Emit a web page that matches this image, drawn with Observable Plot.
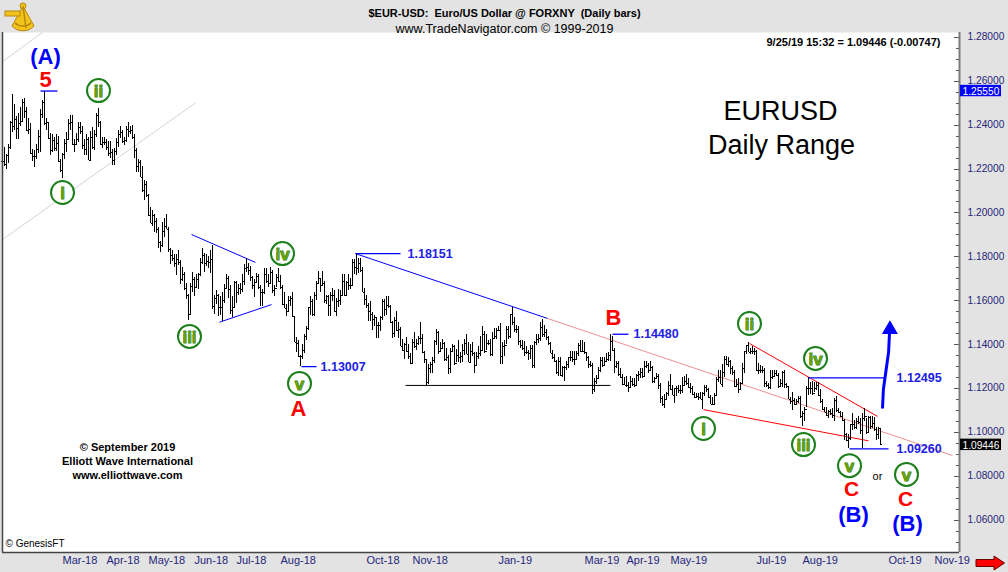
<!DOCTYPE html>
<html><head><meta charset="utf-8">
<script src="https://cdn.jsdelivr.net/npm/d3@7"></script>
<script src="https://cdn.jsdelivr.net/npm/@observablehq/plot@0.6"></script>
<style>
html,body{margin:0;padding:0;background:#e3e3e3;}
#wrap{position:relative;width:1008px;height:572px;overflow:hidden;}
#wrap svg{display:block}
.deco{position:absolute}
</style></head><body>
<div id="wrap"></div>
<script>
// ---- Daily bars, EUR/USD, weekdays from 2018-01-18 to 2019-09-25 ----
const startDate = "2018-01-18";
const highs = [
/*Jan18*/1.2295,1.2296,1.2265,1.2310,1.2415,1.2537,1.2495,1.2440,1.2455,1.2480,
/*Feb18*/1.2515,1.2520,1.2480,1.2430,1.2405,1.2290,1.2285,1.2310,1.2375,1.2470,1.2510,1.2555,1.2430,1.2410,1.2360,1.2355,1.2345,1.2355,1.2350,1.2245,
/*Mar18*/1.2272,1.2335,1.2365,1.2425,1.2445,1.2445,1.2335,1.2360,1.2410,1.2410,1.2395,1.2335,1.2355,1.2345,1.2370,1.2390,1.2375,1.2455,1.2476,1.2415,1.2345,1.2345,
/*Apr18*/1.2335,1.2325,1.2325,1.2290,1.2295,1.2340,1.2375,1.2395,1.2375,1.2345,1.2395,1.2414,1.2395,1.2400,1.2355,1.2295,1.2245,1.2240,1.2210,1.2150,1.2145,
/*May18*/1.2085,1.2025,1.2010,1.1995,1.1975,1.1935,1.1870,1.1955,1.1975,1.1995,1.1935,1.1840,1.1830,1.1810,1.1810,1.1830,1.1785,1.1750,1.1730,1.1680,1.1630,1.1680,1.1730,
/*Jun18*/1.1705,1.1720,1.1725,1.1795,1.1840,1.1815,1.1810,1.1800,1.1830,1.1852,1.1625,1.1645,1.1630,1.1620,1.1640,1.1675,1.1720,1.1710,1.1670,1.1620,1.1690,
/*Jul18*/1.1690,1.1675,1.1680,1.1720,1.1765,1.1791,1.1770,1.1755,1.1710,1.1695,1.1725,1.1720,1.1670,1.1650,1.1745,1.1745,1.1720,1.1750,1.1740,1.1670,1.1720,1.1745,
/*Aug18*/1.1715,1.1670,1.1640,1.1585,1.1620,1.1620,1.1640,1.1530,1.1435,1.1420,1.1350,1.1400,1.1445,1.1485,1.1570,1.1620,1.1605,1.1640,1.1690,1.1735,1.1700,1.1735,1.1690,
/*Sep18*/1.1625,1.1625,1.1640,1.1655,1.1645,1.1610,1.1650,1.1645,1.1720,1.1720,1.1690,1.1720,1.1700,1.1790,1.1790,1.1815,1.1795,1.1795,1.1750,1.1655,
/*Oct18*/1.1625,1.1590,1.1595,1.1545,1.1535,1.1525,1.1500,1.1530,1.1605,1.1605,1.1620,1.1620,1.1580,1.1505,1.1525,1.1550,1.1500,1.1480,1.1425,1.1405,1.1435,1.1400,1.1360,
/*Nov18*/1.1425,1.1455,1.1425,1.1440,1.1500,1.1445,1.1370,1.1335,1.1310,1.1320,1.1340,1.1420,1.1470,1.1460,1.1410,1.1425,1.1410,1.1385,1.1350,1.1385,1.1400,1.1395,
/*Dec18*/1.1380,1.1420,1.1365,1.1400,1.1425,1.1445,1.1410,1.1400,1.1410,1.1365,1.1365,1.1390,1.1440,1.1485,1.1460,1.1445,1.1420,1.1425,1.1455,1.1475,1.1475,
/*Jan19*/1.1485,1.1495,1.1410,1.1420,1.1485,1.1485,1.1540,1.1570,1.1525,1.1490,1.1485,1.1420,1.1420,1.1415,1.1390,1.1375,1.1395,1.1395,1.1415,1.1445,1.1445,1.1500,1.1515,
/*Feb19*/1.1490,1.1470,1.1440,1.1410,1.1375,1.1355,1.1330,1.1340,1.1340,1.1300,1.1300,1.1325,1.1340,1.1370,1.1370,1.1370,1.1370,1.1405,1.1420,1.1420,
/*Mar19*/1.1410,1.1365,1.1345,1.1325,1.1315,1.1245,1.1260,1.1295,1.1340,1.1340,1.1340,1.1360,1.1365,1.1448,1.1440,1.1385,1.1325,1.1325,1.1290,1.1265,1.1250,
/*Apr19*/1.1255,1.1230,1.1255,1.1245,1.1245,1.1265,1.1280,1.1290,1.1290,1.1325,1.1325,1.1315,1.1325,1.1300,1.1250,1.1270,1.1265,1.1225,1.1165,1.1175,1.1185,1.1235,
/*May19*/1.1265,1.1215,1.1200,1.1210,1.1215,1.1215,1.1250,1.1255,1.1265,1.1245,1.1225,1.1210,1.1185,1.1180,1.1180,1.1185,1.1185,1.1215,1.1215,1.1200,1.1170,1.1160,1.1180,
/*Jun19*/1.1250,1.1285,1.1285,1.1310,1.1348,1.1345,1.1340,1.1330,1.1300,1.1285,1.1240,1.1245,1.1230,1.1315,1.1370,1.1395,1.1412,1.1385,1.1390,1.1385,
/*Jul19*/1.1375,1.1315,1.1305,1.1300,1.1290,1.1235,1.1225,1.1285,1.1285,1.1285,1.1285,1.1270,1.1240,1.1280,1.1285,1.1225,1.1210,1.1160,1.1185,1.1155,1.1150,1.1165,1.1165,
/*Aug19*/1.1095,1.1115,1.1210,1.1250,1.1230,1.1235,1.1230,1.1230,1.1230,1.1195,1.1150,1.1115,1.1115,1.1100,1.1105,1.1110,1.1155,1.1165,1.1110,1.1095,1.1090,1.1060,
/*Sep19*/1.0995,1.0990,1.1035,1.1085,1.1055,1.1065,1.1075,1.1065,1.1087,1.1109,1.1065,1.1075,1.1075,1.1075,1.1070,1.1025,1.1025,1.1020
];
const lows = [
/*Jan18*/1.2165,1.2210,1.2200,1.2225,1.2290,1.2365,1.2375,1.2335,1.2335,1.2395,
/*Feb18*/1.2410,1.2430,1.2370,1.2355,1.2265,1.2235,1.2206,1.2245,1.2270,1.2275,1.2430,1.2400,1.2375,1.2335,1.2260,1.2275,1.2280,1.2280,1.2230,1.2185,
/*Mar18*/1.2155,1.2245,1.2275,1.2330,1.2375,1.2305,1.2275,1.2305,1.2320,1.2355,1.2290,1.2260,1.2260,1.2240,1.2240,1.2290,1.2285,1.2345,1.2390,1.2305,1.2295,1.2305,
/*Apr18*/1.2285,1.2255,1.2250,1.2215,1.2215,1.2260,1.2300,1.2340,1.2315,1.2305,1.2320,1.2345,1.2355,1.2335,1.2250,1.2185,1.2185,1.2160,1.2095,1.2055,1.2070,
/*May18*/1.1985,1.1950,1.1940,1.1910,1.1905,1.1840,1.1820,1.1845,1.1890,1.1925,1.1820,1.1765,1.1780,1.1750,1.1715,1.1760,1.1675,1.1690,1.1645,1.1605,1.1510,1.1540,1.1640,
/*Jun18*/1.1620,1.1655,1.1650,1.1710,1.1765,1.1730,1.1755,1.1745,1.1725,1.1562,1.1540,1.1585,1.1530,1.1535,1.1508,1.1590,1.1650,1.1610,1.1540,1.1525,1.1565,
/*Jul18*/1.1590,1.1625,1.1630,1.1640,1.1670,1.1730,1.1715,1.1690,1.1650,1.1615,1.1680,1.1650,1.1575,1.1575,1.1630,1.1680,1.1660,1.1675,1.1635,1.1620,1.1660,1.1685,
/*Aug18*/1.1650,1.1580,1.1565,1.1530,1.1545,1.1575,1.1525,1.1410,1.1365,1.1340,1.1301,1.1335,1.1360,1.1420,1.1465,1.1535,1.1530,1.1530,1.1600,1.1675,1.1640,1.1665,1.1590,
/*Sep18*/1.1585,1.1530,1.1530,1.1595,1.1545,1.1530,1.1570,1.1580,1.1620,1.1620,1.1620,1.1645,1.1650,1.1670,1.1720,1.1715,1.1725,1.1730,1.1640,1.1580,
/*Oct18*/1.1565,1.1505,1.1505,1.1465,1.1485,1.1430,1.1430,1.1460,1.1510,1.1530,1.1535,1.1565,1.1495,1.1430,1.1435,1.1460,1.1430,1.1390,1.1370,1.1335,1.1365,1.1335,1.1310,
/*Nov18*/1.1310,1.1385,1.1375,1.1395,1.1400,1.1360,1.1315,1.1216,1.1220,1.1270,1.1270,1.1315,1.1395,1.1355,1.1370,1.1380,1.1325,1.1325,1.1265,1.1270,1.1365,1.1305,
/*Dec18*/1.1320,1.1320,1.1315,1.1320,1.1350,1.1355,1.1320,1.1315,1.1345,1.1270,1.1305,1.1335,1.1345,1.1375,1.1360,1.1375,1.1395,1.1345,1.1345,1.1425,1.1425,
/*Jan19*/1.1460,1.1310,1.1310,1.1345,1.1400,1.1425,1.1430,1.1490,1.1455,1.1450,1.1395,1.1385,1.1375,1.1345,1.1355,1.1330,1.1335,1.1290,1.1290,1.1395,1.1405,1.1415,1.1435,
/*Feb19*/1.1435,1.1420,1.1395,1.1360,1.1335,1.1320,1.1265,1.1255,1.1255,1.1250,1.1235,1.1285,1.1290,1.1325,1.1320,1.1305,1.1330,1.1345,1.1365,1.1365,
/*Mar19*/1.1355,1.1325,1.1290,1.1295,1.1176,1.1185,1.1220,1.1240,1.1275,1.1295,1.1300,1.1320,1.1325,1.1325,1.1370,1.1270,1.1290,1.1255,1.1245,1.1215,1.1215,
/*Apr19*/1.1205,1.1185,1.1200,1.1210,1.1205,1.1210,1.1235,1.1245,1.1245,1.1255,1.1290,1.1270,1.1285,1.1225,1.1225,1.1240,1.1195,1.1135,1.1120,1.1110,1.1150,1.1165,
/*May19*/1.1190,1.1170,1.1135,1.1165,1.1180,1.1175,1.1180,1.1210,1.1215,1.1200,1.1180,1.1170,1.1155,1.1155,1.1145,1.1150,1.1105,1.1165,1.1185,1.1155,1.1130,1.1125,1.1130,
/*Jun19*/1.1165,1.1230,1.1220,1.1205,1.1250,1.1305,1.1295,1.1265,1.1260,1.1205,1.1205,1.1180,1.1190,1.1225,1.1270,1.1355,1.1365,1.1355,1.1355,1.1350,
/*Jul19*/1.1280,1.1265,1.1270,1.1270,1.1205,1.1205,1.1195,1.1195,1.1240,1.1250,1.1255,1.1200,1.1205,1.1205,1.1200,1.1200,1.1150,1.1130,1.1100,1.1125,1.1130,1.1135,1.1065,
/*Aug19*/1.1027,1.1050,1.1115,1.1170,1.1175,1.1170,1.1185,1.1190,1.1165,1.1135,1.1100,1.1090,1.1075,1.1065,1.1080,1.1065,1.1050,1.1090,1.1085,1.1070,1.1050,1.0965,
/*Sep19*/1.0960,1.0926,1.0965,1.1010,1.1015,1.1015,1.1035,1.0990,1.0927,1.1050,1.0990,1.1000,1.1015,1.1020,1.1005,1.0965,1.0970,1.0940
];
const closes = [
/*Jan18*/1.2235,1.2220,1.2260,1.2300,1.2410,1.2395,1.2425,1.2385,1.2405,1.2415,
/*Feb18*/1.2505,1.2460,1.2375,1.2380,1.2270,1.2255,1.2255,1.2290,1.2350,1.2450,1.2505,1.2405,1.2410,1.2340,1.2285,1.2330,1.2295,1.2315,1.2235,1.2195,
/*Mar18*/1.2265,1.2315,1.2335,1.2405,1.2410,1.2310,1.2310,1.2335,1.2390,1.2370,1.2305,1.2290,1.2335,1.2240,1.2345,1.2300,1.2355,1.2445,1.2410,1.2310,1.2320,1.2320,
/*Apr18*/1.2300,1.2270,1.2275,1.2240,1.2280,1.2320,1.2355,1.2365,1.2325,1.2330,1.2380,1.2370,1.2375,1.2345,1.2285,1.2210,1.2230,1.2160,1.2100,1.2130,1.2080,
/*May18*/1.1990,1.1950,1.1990,1.1960,1.1925,1.1865,1.1850,1.1915,1.1940,1.1925,1.1835,1.1805,1.1795,1.1770,1.1790,1.1775,1.1695,1.1720,1.1655,1.1625,1.1540,1.1665,1.1695,
/*Jun18*/1.1660,1.1695,1.1720,1.1775,1.1805,1.1770,1.1780,1.1775,1.1790,1.1575,1.1610,1.1625,1.1570,1.1570,1.1600,1.1655,1.1700,1.1650,1.1555,1.1570,1.1685,
/*Jul18*/1.1640,1.1655,1.1650,1.1690,1.1745,1.1750,1.1740,1.1705,1.1670,1.1685,1.1710,1.1660,1.1640,1.1640,1.1720,1.1690,1.1680,1.1730,1.1645,1.1655,1.1705,1.1690,
/*Aug18*/1.1660,1.1585,1.1565,1.1550,1.1600,1.1610,1.1530,1.1410,1.1405,1.1345,1.1345,1.1375,1.1440,1.1475,1.1570,1.1595,1.1540,1.1625,1.1680,1.1700,1.1670,1.1680,1.1600,
/*Sep18*/1.1620,1.1580,1.1625,1.1625,1.1550,1.1595,1.1600,1.1625,1.1690,1.1625,1.1685,1.1670,1.1670,1.1775,1.1750,1.1745,1.1770,1.1740,1.1640,1.1605,
/*Oct18*/1.1580,1.1550,1.1540,1.1515,1.1525,1.1490,1.1490,1.1525,1.1595,1.1560,1.1580,1.1575,1.1500,1.1450,1.1510,1.1465,1.1470,1.1390,1.1375,1.1400,1.1370,1.1345,1.1315,
/*Nov18*/1.1410,1.1390,1.1405,1.1430,1.1430,1.1365,1.1335,1.1230,1.1290,1.1310,1.1330,1.1415,1.1455,1.1370,1.1385,1.1405,1.1335,1.1340,1.1290,1.1370,1.1390,1.1315,
/*Dec18*/1.1350,1.1340,1.1345,1.1375,1.1405,1.1355,1.1320,1.1370,1.1360,1.1305,1.1345,1.1360,1.1375,1.1445,1.1370,1.1405,1.1405,1.1355,1.1430,1.1440,1.1465,
/*Jan19*/1.1465,1.1345,1.1390,1.1395,1.1470,1.1440,1.1540,1.1500,1.1470,1.1470,1.1415,1.1395,1.1385,1.1365,1.1365,1.1360,1.1385,1.1305,1.1410,1.1425,1.1430,1.1480,1.1445,
/*Feb19*/1.1455,1.1435,1.1405,1.1360,1.1340,1.1325,1.1275,1.1325,1.1260,1.1295,1.1295,1.1310,1.1340,1.1340,1.1335,1.1335,1.1360,1.1395,1.1370,1.1370,
/*Mar19*/1.1365,1.1340,1.1310,1.1305,1.1195,1.1235,1.1245,1.1285,1.1330,1.1305,1.1325,1.1335,1.1350,1.1415,1.1375,1.1300,1.1315,1.1265,1.1250,1.1220,1.1215,
/*Apr19*/1.1215,1.1205,1.1235,1.1220,1.1215,1.1260,1.1265,1.1275,1.1255,1.1300,1.1305,1.1285,1.1295,1.1235,1.1245,1.1255,1.1215,1.1155,1.1130,1.1150,1.1180,1.1215,
/*May19*/1.1195,1.1170,1.1200,1.1200,1.1190,1.1190,1.1215,1.1235,1.1225,1.1205,1.1200,1.1175,1.1160,1.1165,1.1160,1.1150,1.1180,1.1205,1.1195,1.1160,1.1130,1.1130,1.1170,
/*Jun19*/1.1240,1.1250,1.1220,1.1275,1.1335,1.1310,1.1325,1.1290,1.1275,1.1210,1.1220,1.1195,1.1225,1.1290,1.1370,1.1395,1.1365,1.1370,1.1370,1.1370,
/*Jul19*/1.1285,1.1285,1.1285,1.1285,1.1225,1.1215,1.1205,1.1250,1.1255,1.1270,1.1260,1.1210,1.1225,1.1275,1.1220,1.1210,1.1150,1.1140,1.1145,1.1130,1.1140,1.1155,1.1075,
/*Aug19*/1.1085,1.1105,1.1200,1.1200,1.1200,1.1180,1.1200,1.1215,1.1170,1.1140,1.1105,1.1090,1.1080,1.1095,1.1085,1.1080,1.1145,1.1100,1.1090,1.1075,1.1055,1.0990,
/*Sep19*/1.0965,1.0975,1.1035,1.1035,1.1025,1.1050,1.1045,1.1010,1.1065,1.1075,1.1000,1.1070,1.1030,1.1040,1.1015,1.0990,1.1020,1.0945
];

// ---- Axis tick labels ----
const monthTicks = ["Mar-18","Apr-18","May-18","Jun-18","Jul-18","Aug-18","Oct-18","Nov-18","Jan-19","Mar-19","Apr-19","May-19","Jul-19","Aug-19","Oct-19","Nov-19"];
const priceTicks = [1.06,1.08,1.10,1.12,1.14,1.16,1.18,1.20,1.22,1.24,1.26,1.28];
const minorStep = 0.005;

// ---- Annotations (x = trading-day index from 1 Mar 2018, y = price) ----
const waveCircles = [
  {t:"i",x:0,y:1.2093},{t:"ii",x:18,y:1.2557},{t:"iii",x:63.5,y:1.1438},
  {t:"iv",x:110,y:1.1815},{t:"v",x:118.5,y:1.1224},{t:"i",x:320.5,y:1.1019},
  {t:"ii",x:343.5,y:1.1497},{t:"iii",x:370.5,y:1.0946},{t:"iv",x:376.5,y:1.1338},
  {t:"v",x:393.5,y:1.0850},{t:"v",x:422,y:1.0810}
];
const waveLetters = [
  {t:"(A)",x:-8.5,y:1.2712,s:22,c:"#0000ff"},{t:"5",x:-8.5,y:1.2605,s:22,c:"#ff0000"},
  {t:"A",x:118,y:1.1110,s:22,c:"#ff0000"},{t:"B",x:275.5,y:1.1524,s:22,c:"#ff0000"},
  {t:"C",x:394.5,y:1.0741,s:21,c:"#ff0000"},{t:"(B)",x:395.5,y:1.0627,s:22,c:"#0000ff"},
  {t:"C",x:421.5,y:1.0696,s:21,c:"#ff0000"},{t:"(B)",x:422.5,y:1.0583,s:22,c:"#0000ff"}
];
const levelLines = [
  {x1:-11,x2:-2.5,p:1.2555},{x1:146.5,x2:169,p:1.18151},{x1:119.5,x2:127,p:1.13007},
  {x1:275,x2:283,p:1.1448},{x1:373,x2:411.5,p:1.12495},{x1:393.5,x2:413,p:1.0926}
];
const levelLabels = [
  {x:172.5,p:1.18151},{x:129,p:1.13007},{x:285.5,p:1.14480},{x:417,p:1.12495},{x:417,p:1.09260}
];
const trendLines = [
  {x1:64.5,y1:1.1902,x2:96.5,y2:1.1775,c:"#0000ff",d:null},
  {x1:78.5,y1:1.1503,x2:104.5,y2:1.1583,c:"#0000ff",d:null},
  {x1:146.5,y1:1.1815,x2:242.5,y2:1.1520,c:"#0000ff",d:null},
  {x1:242.5,y1:1.1520,x2:445,y2:1.0896,c:"#f09090",d:"3,4"},
  {x1:171.5,y1:1.1215,x2:274,y2:1.1215,c:"#000000",d:null},
  {x1:343.5,y1:1.1406,x2:407.5,y2:1.1074,c:"#ff0000",d:null},
  {x1:320.5,y1:1.1105,x2:403,y2:1.0963,c:"#ff0000",d:null},
  {x1:-30,y1:1.1879,x2:66.5,y2:1.2501,c:"#d4d4d4",d:null},
  {x1:-30,y1:1.2689,x2:-10,y2:1.28214,c:"#d4d4d4",d:null}
];
const projection = [{x1:410,y1:1.1110,x2:413.5,y2:1.1455}];
const projectionTip = [{x:413.7,y:1.1470}];
const valueBoxes = [{p:1.25550,fill:"#0000ff"},{p:1.09446,fill:"#000000"}];

// ---- build ----
const mNames = {Jan:0,Feb:1,Mar:2,Apr:3,May:4,Jun:5,Jul:6,Aug:7,Sep:8,Oct:9,Nov:10,Dec:11};
const days = [];
for (let t = Date.parse(startDate+"T00:00:00Z"); t <= Date.parse("2019-12-31T00:00:00Z"); t += 864e5) {
  const d = new Date(t), w = d.getUTCDay();
  if (w !== 0 && w !== 6) days.push(d);
}
const base = days.findIndex(d => d.getUTCFullYear() === 2018 && d.getUTCMonth() === 2);
const tickIdx = monthTicks.map(s => {
  const [m, y] = s.split("-");
  return days.findIndex(d => d.getUTCFullYear() === 2000 + (+y) && d.getUTCMonth() === mNames[m]) - base;
});
const tickLabel = new Map(tickIdx.map((k, j) => [k, monthTicks[j]]));
const bars = highs.map((h, k) => ({i: k - base, h, l: lows[k], c: closes[k], o: k ? closes[k - 1] : closes[0]}));
const minorTicks = d3.range(Math.round(1.05/minorStep), Math.round(1.28/minorStep) + 1).map(k => +(k*minorStep).toFixed(3));

const X0 = -30, X1 = 448.5, Y0 = 1.04546, Y1 = 1.28214;
const navy = "#25257a";
const green = "#1b7f1b";
const font = "Liberation Sans, Arial, Helvetica, sans-serif";

const chart = Plot.plot({
  width: 1008, height: 572,
  marginLeft: 2, marginRight: 49, marginTop: 32, marginBottom: 20,
  style: {background: "#e3e3e3", fontFamily: font, overflow: "visible"},
  x: {type: "linear", domain: [X0, X1]},
  y: {type: "linear", domain: [Y0, Y1]},
  marks: [
    Plot.frame({fill: "white", stroke: null}),
    Plot.link(trendLines, {x1: "x1", y1: "y1", x2: "x2", y2: "y2", stroke: "c", strokeDasharray: d => d.d, strokeWidth: 1}),
    Plot.ruleX(bars, {x: "i", y1: "l", y2: "h", stroke: "#000", strokeWidth: 1, shapeRendering: "crispEdges"}),
    Plot.link(bars, {x1: d => d.i - 0.6, x2: "i", y1: "o", y2: "o", stroke: "#000", strokeWidth: 1, shapeRendering: "crispEdges"}),
    Plot.link(bars, {x1: "i", x2: d => d.i + 0.6, y1: "c", y2: "c", stroke: "#000", strokeWidth: 1, shapeRendering: "crispEdges"}),
    Plot.link(levelLines, {x1: "x1", x2: "x2", y1: "p", y2: "p", stroke: "#0000ff", strokeWidth: 1.3}),
    Plot.link(projection, {x1: "x1", y1: "y1", x2: "x2", y2: "y2", stroke: "#0000ff", strokeWidth: 3, curve: "bump-y"}),
    Plot.dot(projectionTip, {x: "x", y: "y", symbol: "triangle", r: 5, fill: "#0000ff", stroke: "#0000ff"}),
    Plot.text(levelLabels, {x: "x", y: "p", text: d => d.p.toFixed(5), textAnchor: "start", fill: "#2020e6", fontWeight: "bold", fontSize: 12.5}),
    Plot.dot(waveCircles, {x: "x", y: "y", r: 11.5, stroke: green, strokeWidth: 2, fill: "white"}),
    Plot.text(waveCircles, {x: "x", y: "y", text: "t", fill: "#6aa000", stroke: green, strokeWidth: 0.9, fontWeight: "bold", fontSize: 17, dy: 1}),
    Plot.text(waveLetters, {x: "x", y: "y", text: "t", fill: "c", fontWeight: "bold", fontSize: "s"}),
    Plot.text(["or"], {x: 407.5, y: 1.0801, text: d => d, fill: "#000", fontSize: 11}),
    Plot.text(["EURUSD"], {x: 359, y: 1.2462, text: d => d, fill: "#000", fontSize: 27}),
    Plot.text(["Daily Range"], {x: 359.5, y: 1.2307, text: d => d, fill: "#000", fontSize: 27}),
    Plot.text(["© September 2019", "Elliott Wave International", "www.elliottwave.com"],
      {x: 32.5, y: [1.0932, 1.0868, 1.0805], text: d => d, fill: "#000", fontSize: 11, fontWeight: "bold"}),
    Plot.text(["© GenesisFT"], {frameAnchor: "bottom-left", dx: 3, dy: -6, text: d => d, fill: "#000", fontSize: 10}),
    // right price axis
    Plot.link(minorTicks, {x1: X1 - 2, x2: X1, y1: d => d, y2: d => d, stroke: "#555", shapeRendering: "crispEdges"}),
    Plot.link(priceTicks, {x1: X1 - 3, x2: X1, y1: d => d, y2: d => d, stroke: "#555", shapeRendering: "crispEdges"}),
    Plot.axisY({anchor: "right", ticks: priceTicks, tickSize: 0, tickPadding: 8, tickFormat: d => d.toFixed(5), fontSize: 10.2, dy: -0.5, color: navy, label: null}),
    Plot.axisX({ticks: tickIdx, tickFormat: k => tickLabel.get(k), tickSize: 0, tickPadding: 4, textAnchor: "start", fontSize: 11, color: navy, label: null}),
    Plot.ruleX([X1], {stroke: "#7a7a7a", strokeWidth: 2}),
    Plot.ruleX([X0], {stroke: "#444", strokeWidth: 1.5}),
    Plot.ruleY([Y0], {stroke: "#444", strokeWidth: 1.5}),
    Plot.rect(valueBoxes, {x1: 449, x2: 469.5, y1: d => d.p - 0.0026, y2: d => d.p + 0.0026, fill: "fill"}),
    Plot.text(valueBoxes, {x: 450, y: "p", text: d => d.p.toFixed(5), textAnchor: "start", fill: "white", fontSize: 10.2, dy: 0.8}),
    // header
    Plot.text(["$EUR-USD:  Euro/US Dollar @ FORXNY  (Daily bars)"], {frameAnchor: "top", dx: 23.5, dy: -23, text: d => d, fontWeight: "bold", fontSize: 11, fill: "#000"}),
    Plot.text(["www.TradeNavigator.com © 1999-2019"], {frameAnchor: "top", dx: 23.5, dy: -8, text: d => d, fontSize: 12.5, fill: "#000"}),
    Plot.text(["9/25/19 15:32 = 1.09446 (-0.00747)"], {frameAnchor: "top-right", dx: -19, dy: 6, text: d => d, textAnchor: "end", fontWeight: "bold", fontSize: 11, fill: "#000"})
  ]
});
const wrap = document.getElementById("wrap");
wrap.append(chart);

// decorations: logo and scroll arrow
wrap.insertAdjacentHTML("beforeend", `
<svg class="deco" style="left:3px;top:1px" width="36" height="31" viewBox="0 0 36 31">
  <path d="M20,5 L9,25 A15,15 0 0 0 31,25 Z" fill="#f2c41c" stroke="#b8860b" stroke-width="1"/>
  <path d="M12,22 A12,12 0 0 0 28,22" fill="none" stroke="#b8860b" stroke-width="1.5"/>
  <rect x="2" y="10" width="15" height="5" fill="#f2c41c" stroke="#b8860b" stroke-width="1"/>
  <circle cx="20" cy="5" r="3" fill="#f2c41c" stroke="#b8860b"/>
  <line x1="20" y1="5" x2="23" y2="27" stroke="#b8860b" stroke-width="1.5"/>
</svg>
<svg class="deco" style="left:975px;top:555px" width="31" height="16" viewBox="0 0 31 16">
  <path d="M1,4.5 H19 V1 L29.5,8 L19,15 V11.5 H1 Z" fill="#ff0000" stroke="#600" stroke-width="1"/>
</svg>`);
</script>
</body></html>
